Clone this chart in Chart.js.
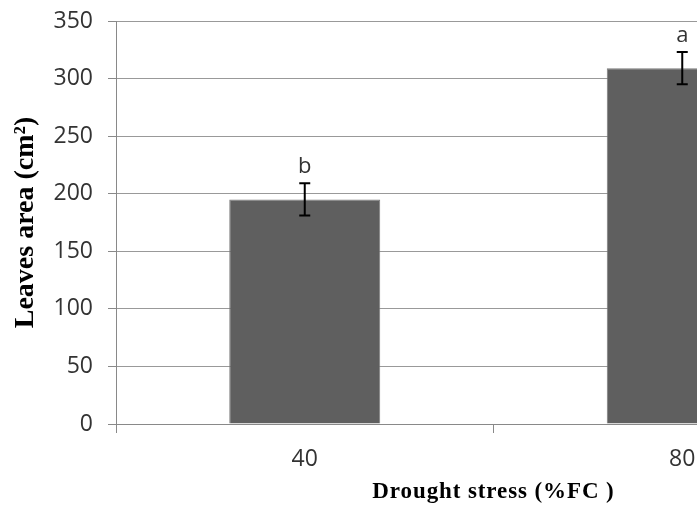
<!DOCTYPE html>
<html><head><meta charset="utf-8">
<script src="https://cdn.jsdelivr.net/npm/chart.js@4"></script>
<style>
html,body{margin:0;padding:0;background:#fff;overflow:hidden;width:697px;height:506px}
#wrap{width:880px;height:506px}
</style>
</head><body><div id="wrap"><canvas id="c" width="880" height="506"></canvas></div>
<script>
const categories = ['40', '80'];
const leafArea = [195, 309];
const leafAreaError = [14, 14];
const significanceLetters = ['b', 'a'];
const yTicks = [0, 50, 100, 150, 200, 250, 300, 350];

const errorBarPlugin = {
  id: 'errorBars',
  afterDatasetsDraw(chart) {
    const ctx = chart.ctx;
    const y = chart.scales.y;
    const meta = chart.getDatasetMeta(0);
    ctx.save();
    meta.data.forEach((bar, i) => {
      const x = bar.x;
      const top = y.getPixelForValue(leafArea[i] + leafAreaError[i]);
      const bot = y.getPixelForValue(leafArea[i] - leafAreaError[i]);
      ctx.strokeStyle = '#000';
      ctx.lineWidth = 2;
      ctx.beginPath();
      ctx.moveTo(x, top); ctx.lineTo(x, bot);
      ctx.moveTo(x - 5.5, top); ctx.lineTo(x + 5.5, top);
      ctx.moveTo(x - 5.5, bot); ctx.lineTo(x + 5.5, bot);
      ctx.stroke();
      ctx.fillStyle = '#333';
      ctx.font = '22px "Open Sans"';
      ctx.textAlign = 'center';
      ctx.textBaseline = 'alphabetic';
      ctx.fillText(significanceLetters[i], x, top - 10);
    });
    ctx.restore();
  }
};

const titleSpacingPlugin = {
  id: 'titleSpacing',
  beforeDraw(chart) {
    const s = chart.scales.x;
    if (s && !s._spacingPatched) {
      const orig = s.drawTitle;
      s.drawTitle = function () {
        const ctx = this.ctx;
        ctx.save();
        try { ctx.letterSpacing = '0.9px'; } catch (e) {}
        orig.call(this);
        ctx.restore();
      };
      s._spacingPatched = true;
    }
  }
};

new Chart(document.getElementById('c'), {
  type: 'bar',
  data: {
    labels: categories,
    datasets: [{
      data: leafArea,
      backgroundColor: '#5f5f5f',
      borderColor: '#7a7a7a',
      borderWidth: 1,
      barPercentage: 0.4,
      categoryPercentage: 1.0
    }]
  },
  options: {
    responsive: false,
    animation: false,
    devicePixelRatio: 1,
    layout: { padding: { top: 21, right: 9, left: 0, bottom: 0 } },
    plugins: { legend: { display: false }, tooltip: { enabled: false } },
    scales: {
      x: {
        offset: true,
        grid: { display: true, offset: true, drawOnChartArea: false, drawTicks: true, tickLength: 9, tickColor: '#898989', tickWidth: 1 },
        border: { display: true, color: '#898989', width: 1 },
        ticks: { color: '#333', font: { family: '"Open Sans"', size: 23 }, padding: 13 },
        title: { display: true, text: 'Drought stress (%FC )', color: '#000', font: { family: '"Liberation Serif", "Times New Roman", serif', size: 23, weight: 'bold' }, padding: { top: 0, bottom: 0 } },
        afterFit(scale) { scale.height = 82; scale.paddingLeft = 0; scale.paddingRight = 0; }
      },
      y: {
        min: yTicks[0],
        max: yTicks[yTicks.length - 1],
        ticks: { stepSize: yTicks[1] - yTicks[0], color: '#333', font: { family: '"Open Sans"', size: 23 }, padding: 15 },
        grid: { color: '#999999', lineWidth: 1, borderDash: [1, 1], drawTicks: true, tickLength: 8, tickColor: '#898989', tickBorderDash: [] },
        border: { display: true, color: '#898989', width: 1 },
        title: { display: true, text: 'Leaves area (cm²)', color: '#000', font: { family: '"Liberation Serif", "Times New Roman", serif', size: 28, weight: 'bold' }, padding: { top: 9, bottom: 0 } },
        afterFit(scale) { scale.width = 116; scale.paddingTop = 0; scale.paddingBottom = 0; }
      }
    }
  },
  plugins: [errorBarPlugin, titleSpacingPlugin]
});
</script>
</body></html>
